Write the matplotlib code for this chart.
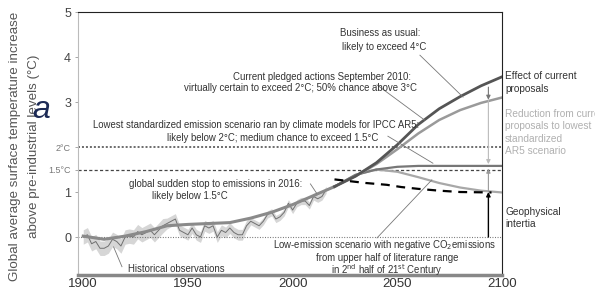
import matplotlib
matplotlib.use("Agg")
from matplotlib import pyplot as plt

plt.rcParams['font.family'] = ['Liberation Sans', 'DejaVu Sans']

# observed temperature anomaly (every 2 years) and its uncertainty half-width
hist_years = list(range(1900, 2017, 2))
hist_temp = [0.0, 0.05, -0.15, -0.1, -0.25, -0.25, -0.2, -0.05, -0.1, -0.2,
             0.0, 0.02, 0.0, 0.12, 0.05, 0.1, 0.15, 0.05, 0.15, 0.25,
             0.3, 0.35, 0.4, 0.15, 0.1, 0.05, 0.2, 0.05, 0.0, 0.25,
             0.2, 0.25, 0.0, 0.15, 0.1, 0.2, 0.1, 0.05, 0.05, 0.25,
             0.35, 0.3, 0.25, 0.35, 0.5, 0.55, 0.4, 0.45, 0.55, 0.75,
             0.6, 0.75, 0.8, 0.8, 0.7, 0.9, 0.85, 0.9, 1.05]
hist_err = [0.16] * 20 + [0.12] * 20 + [0.08] * 19

# modelled past warming, shared by all scenarios
model_years = [1900, 1910, 1920, 1930, 1940, 1950, 1960, 1970, 1980, 1990, 2000, 2010, 2020]
model_temp = [0.02, -0.05, 0.02, 0.12, 0.25, 0.28, 0.3, 0.32, 0.42, 0.55, 0.72, 0.92, 1.12]

scen_years = [2020, 2030, 2040, 2050, 2060, 2070, 2080, 2090, 2100]
bau = [1.12, 1.35, 1.65, 2.05, 2.5, 2.85, 3.12, 3.36, 3.56]
pledges = [1.12, 1.35, 1.62, 1.95, 2.3, 2.6, 2.82, 2.98, 3.1]
lowest_ar5 = [1.12, 1.38, 1.5, 1.56, 1.58, 1.58, 1.58, 1.58, 1.58]
low_negative = [1.12, 1.38, 1.5, 1.45, 1.33, 1.2, 1.1, 1.03, 0.99]

stop_years = [2020, 2035, 2045, 2052, 2060, 2070, 2080, 2095]
stop_temp = [1.28, 1.2, 1.16, 1.11, 1.07, 1.03, 1.0, 0.99]

arrow_year = 2093.5
bau_end, pledge_end, ar5_end, inertia_end = 3.33, 3.05, 1.62, 1.0

yticks = [0, 1, 1.5, 2, 3, 4, 5]
ytick_labels = ['0', '1', '1.5°C', '2°C', '3', '4', '5']
xticks = [1900, 1950, 2000, 2050, 2100]

W, H = 595, 292
fig = plt.figure(figsize=(W / 100, H / 100), dpi=100)
ax = fig.add_axes([78 / W, 1 - 275 / H, 424 / W, 263 / H])
ax.set_xlim(1897.5, 2100)
ax.set_ylim(-0.844, 5)

# reference levels
ax.axhline(2, color='#444444', lw=1.1, dashes=(1.3, 1.3))
ax.axhline(1.5, color='#444444', lw=0.9, dashes=(2.5, 1.8))
ax.axhline(0, color='#666666', lw=0.8, dashes=(0.8, 1.5))

# observations
lo = [t - e for t, e in zip(hist_temp, hist_err)]
hi = [t + e for t, e in zip(hist_temp, hist_err)]
ax.fill_between(hist_years, lo, hi, color='#d6d6d6', lw=0)
ax.plot(hist_years, hist_temp, color='#707070', lw=0.7)

# scenarios
ax.plot(model_years, model_temp, color='#8a8a8a', lw=2.2)
ax.plot(scen_years, low_negative, color='#a8a8a8', lw=1.6)
ax.plot(scen_years, lowest_ar5, color='#777777', lw=1.6)
ax.plot(scen_years, pledges, color='#9a9a9a', lw=1.8)
ax.plot(scen_years, bau, color='#555555', lw=2.0)
ax.plot(stop_years, stop_temp, color='black', lw=1.6, dashes=(4, 3))

# arrows at the end of the century
def varrow(y0, y1, color, lw=0.8):
    ax.annotate('', xy=(arrow_year, y1), xytext=(arrow_year, y0),
                arrowprops=dict(arrowstyle='-|>', color=color, lw=lw,
                                mutation_scale=6, shrinkA=0, shrinkB=0))

varrow(bau_end, pledge_end, '#777777')
varrow(pledge_end, ar5_end, '#bbbbbb')
varrow(inertia_end, 1.52, '#999999')
varrow(0, inertia_end, 'black', lw=1.0)

# leader lines
leader = dict(color='#777777', lw=0.6)
ax.plot([2060.8, 2081.4], [4.04, 3.11], **leader)
ax.plot([2040.3, 2063], [3.38, 2.6], **leader)
ax.plot([2045.5, 2067], [2.24, 1.64], **leader)
ax.plot([2008.5, 2011.5], [1.18, 0.97], **leader)
ax.plot([1914.5, 1918.5], [-0.22, -0.66], **leader)
ax.plot([2040.3, 2066.5], [-0.02, 1.27], **leader)

txt = dict(fontsize=6.9, color='#333333', ha='center', va='center')
ax.text(2041.7, 4.53, 'Business as usual:', **txt)
ax.text(2043.6, 4.22, 'likely to exceed 4°C', **txt)
ax.text(2014.0, 3.556, 'Current pledged actions September 2010:', **txt)
ax.text(2004.0, 3.31, 'virtually certain to exceed 2°C; 50% chance above 3°C', **txt)
ax.text(1982.7, 2.49, 'Lowest standardized emission scenario ran by climate models for IPCC AR5:', **txt)
ax.text(1990.6, 2.2, 'likely below 2°C; medium chance to exceed 1.5°C', **txt)
ax.text(1963.4, 1.18, 'global sudden stop to emissions in 2016:', **txt)
ax.text(1951.0, 0.92, 'likely below 1.5°C', **txt)
ax.text(1944.3, -0.71, 'Historical observations', **txt)
ax.text(2044.1, -0.18, 'Low-emission scenario with negative CO$_2$emissions', **txt)
ax.text(2045.0, -0.47, 'from upper half of literature range', **txt)
ax.text(2045.0, -0.73, 'in 2$^{\\rm nd}$ half of 21$^{\\rm st}$ Century', **txt)

side = dict(fontsize=7.3, ha='left', va='top')
fig.text(505 / W, 1 - 71 / H, 'Effect of current\nproposals', color='#333333',
         linespacing=1.4, **side)
fig.text(505 / W, 1 - 109 / H,
         'Reduction from current\nproposals to lowest\nstandardized\nAR5 scenario',
         color='#b0b0b0', linespacing=1.3, **side)
fig.text(505 / W, 1 - 207 / H, 'Geophysical\nintertia', color='#333333',
         linespacing=1.3, **side)

# axes styling
for s in ['top', 'right']:
    ax.spines[s].set_color('#222222')
    ax.spines[s].set_linewidth(0.8)
ax.spines['left'].set_color('#bbbbbb')
ax.spines['left'].set_linewidth(0.8)
ax.spines['bottom'].set_color('#888888')
ax.spines['bottom'].set_linewidth(2.5)

ax.set_yticks(yticks)
ax.set_yticklabels(ytick_labels)
ax.tick_params(axis='y', length=2, width=0.6, color='#999999', pad=3,
               labelsize=9, labelcolor='#444444')
for lab in ax.get_yticklabels():
    if '°' in lab.get_text():
        lab.set_fontsize(6.5)
        lab.set_color('#777777')
ax.set_xticks(xticks)
ax.tick_params(axis='x', length=0, pad=2, labelsize=9.5, labelcolor='#333333')

fig.text(15 / W, 1 - 146 / H, 'Global average surface temperature increase',
         rotation=90, fontsize=9.6, color='#555555', ha='center', va='center')
fig.text(34 / W, 1 - 146 / H, 'above pre-industrial levels (°C)',
         rotation=90, fontsize=9.6, color='#555555', ha='center', va='center')
fig.text(41 / W, 1 - 110 / H, 'a', fontsize=23, style='italic', color='#1c2a55',
         ha='center', va='center')

fig.savefig('out.png', dpi=100)
